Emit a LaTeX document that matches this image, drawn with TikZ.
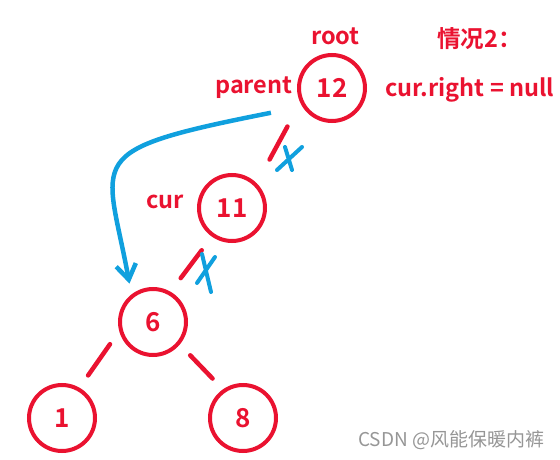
\documentclass[tikz,border=0pt]{standalone}
\usepackage{fontspec}
\setmainfont{Noto Sans CJK SC}[BoldFont={Noto Sans CJK SC Bold}]
\usepackage{tikz}
\usetikzlibrary{arrows.meta, positioning, calc}
\definecolor{inkred}{RGB}{234,18,48}
\definecolor{inkblue}{RGB}{16,160,222}
\definecolor{markgray}{RGB}{150,150,150}

\begin{document}
\begin{tikzpicture}[
  x=1pt, y=-1pt,
  treenode/.style={circle, draw=inkred, line width=4pt, minimum size=66pt, inner sep=0pt, text=inkred, font=\fontsize{26}{26}\selectfont\bfseries},
  tag/.style={anchor=base west, inner sep=0pt, text=inkred, font=\fontsize{23.5}{23.5}\selectfont\bfseries},
  edge/.style={draw=inkred, line width=4.5pt, line cap=round},
  cut/.style={draw=inkblue, line width=4pt, line cap=round},
  move/.style={draw=inkblue, line width=4.5pt, -{Straight Barb[length=15pt, width=20pt]}},
]
\useasboundingbox (0,0) rectangle (560,460);

\node[treenode] (n12) at (332,88) {12};
\node[treenode] (n11) at (232,208) {11};
\node[treenode] (n6) at (153,322) {6};
\node[treenode] (n1) at (62,418) {1};
\node[treenode] (n8) at (243,418) {8};

\node[tag] (root) at (311,45) {root};
\node[tag] (case) at (437,48) {情况2：};
\node[tag] (parent) at (215,93) {parent};
\node[tag] (cond) at (385,96) {cur.right = null};
\node[tag] (cur) at (146,208) {cur};

\draw[edge, shorten <=27pt, shorten >=27pt] (n11.45) -- (n12.205);
\draw[edge, shorten <=17pt, shorten >=17pt] (n6.60) -- (n11.235);
\draw[edge, shorten <=16pt, shorten >=15pt] (n6.195) -- (n1.60);
\draw[edge, shorten <=15pt, shorten >=15pt] (n6.-40) -- (n8.125);

% links cut
\draw[cut] (277,170) -- (302,147) (285,147) -- (292,170);
\draw[cut] (197,283) -- (215,257) (202,254) -- (211,292);

\draw[move, shorten <=32pt, shorten >=11pt] (n12.212) .. controls (78,151) and (106,156) .. (n6.128);

\node[anchor=base west, inner sep=0pt, text=markgray, font=\fontsize{19}{19}\selectfont] (mark) at (358,446) {CSDN @风能保暖内裤};
\end{tikzpicture}
\end{document}
